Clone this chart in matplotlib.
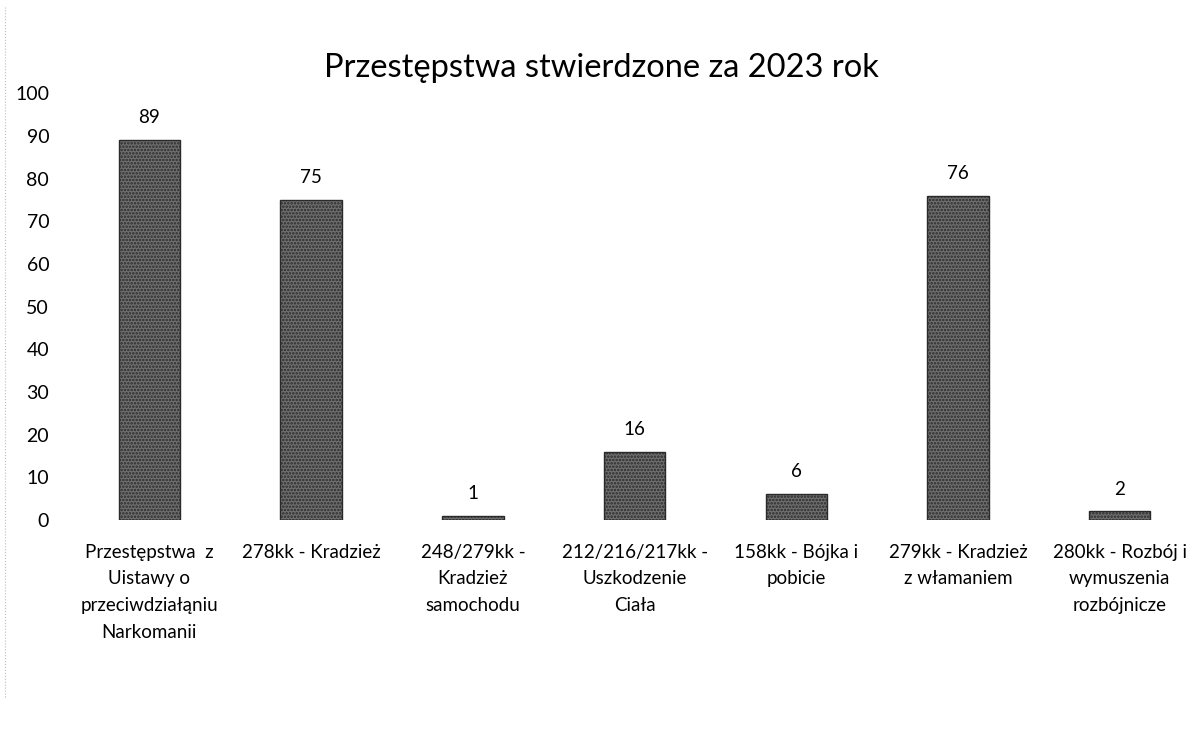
import matplotlib
matplotlib.use("Agg")
from matplotlib import pyplot as plt

categories = [
    "Przestępstwa  z\nUistawy o\nprzeciwdziałąniu\nNarkomanii",
    "278kk - Kradzież",
    "248/279kk -\nKradzież\nsamochodu",
    "212/216/217kk -\nUszkodzenie\nCiała",
    "158kk - Bójka i\npobicie",
    "279kk - Kradzież\nz włamaniem",
    "280kk - Rozbój i\nwymuszenia\nrozbójnicze",
]
values = [89, 75, 1, 16, 6, 76, 2]
yticks = [0, 10, 20, 30, 40, 50, 60, 70, 80, 90, 100]

plt.rcParams['font.family'] = ['Lato', 'DejaVu Sans']
plt.rcParams['hatch.linewidth'] = 1.2

fig = plt.figure(figsize=(12.03, 7.34), dpi=100)
ax = fig.add_axes([0.057, 0.2916, 0.941, 0.5814])

x = range(len(values))
bars = ax.bar(x, values, width=0.38, color='#6e6e6e', edgecolor='#2a2a2a',
              hatch='.....', linewidth=1.0)
for xi, v in zip(x, values):
    ax.annotate(str(v), (xi, v), xytext=(0, 10), textcoords='offset points',
                ha='center', va='bottom', fontsize=13.5)

ax.set_xlim(-0.5, len(values) - 0.5)
ax.set_ylim(0, 100)
ax.set_yticks(yticks)
ax.set_xticks(list(x))
ax.set_xticklabels(categories, fontsize=13.5, linespacing=1.7, va='top')
ax.tick_params(axis='y', labelsize=14, length=0, pad=14)
ax.tick_params(axis='x', length=0, pad=17)
for s in ax.spines.values():
    s.set_visible(False)

fig.text(0.5, 0.908, "Przestępstwa stwierdzone za 2023 rok", ha='center',
         va='center', fontsize=23.5)

# faint dotted scan edge on the left
fig.add_artist(plt.Line2D([0.004, 0.004], [0.05, 0.99], transform=fig.transFigure,
                          color='#bbbbbb', linestyle=':', linewidth=0.8))

fig.savefig('out.png', dpi=100)
